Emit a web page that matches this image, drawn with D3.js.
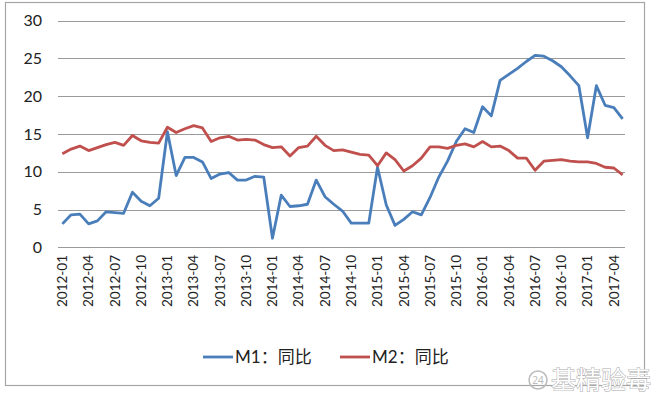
<!DOCTYPE html>
<html><head><meta charset="utf-8">
<script src="https://cdn.jsdelivr.net/npm/d3@7/dist/d3.min.js"></script>
<style>body{margin:0;background:#fff;}svg{display:block;}</style>
</head><body>
<svg id="c" width="660" height="397"></svg>
<script>
const months = [];
for (let y = 2012; y <= 2017; y++) for (let m = 1; m <= 12; m++) {
  if (y === 2017 && m > 5) break;
  months.push(y + "-" + String(m).padStart(2, "0"));
}
const m1 = [3.1,4.3,4.4,3.1,3.5,4.7,4.6,4.5,7.3,6.1,5.5,6.5,
            15.3,9.5,11.9,11.9,11.3,9.1,9.7,9.9,8.9,8.9,9.4,9.3,
            1.2,6.9,5.4,5.5,5.7,8.9,6.7,5.7,4.8,3.2,3.2,3.2,
            10.6,5.6,2.9,3.7,4.7,4.3,6.6,9.3,11.4,14.0,15.7,15.2,
            18.6,17.4,22.1,22.9,23.7,24.6,25.4,25.3,24.7,23.9,22.7,21.4,
            14.5,21.4,18.8,18.5,17.0];
const m2 = [12.4,13.0,13.4,12.8,13.2,13.6,13.9,13.5,14.8,14.1,13.9,13.8,
            15.9,15.2,15.7,16.1,15.8,14.0,14.5,14.7,14.2,14.3,14.2,13.6,
            13.2,13.3,12.1,13.2,13.4,14.7,13.5,12.8,12.9,12.6,12.3,12.2,
            10.8,12.5,11.6,10.1,10.8,11.8,13.3,13.3,13.1,13.5,13.7,13.3,
            14.0,13.3,13.4,12.8,11.8,11.8,10.2,11.4,11.5,11.6,11.4,11.3,
            11.3,11.1,10.6,10.5,9.6];
const yTicks = [0,5,10,15,20,25,30];
const seriesNames = ["M1：同比","M2：同比"];
const colors = ["#4a7ebb","#c0504d"];

const svg = d3.select("#c");
svg.append("rect").attr("x",5.5).attr("y",2.5).attr("width",639).attr("height",383)
  .attr("fill","none").attr("stroke","#a6a6a6").attr("stroke-width",1.2);

const x = d3.scalePoint().domain(months).range([58,627]).padding(0.5);
const y = d3.scaleLinear().domain([0,30]).range([247.3,20.7]);

svg.append("g").selectAll("line").data(yTicks).join("line")
  .attr("x1",58).attr("x2",625).attr("y1",d=>Math.round(y(d))+0.5).attr("y2",d=>Math.round(y(d))+0.5)
  .attr("stroke","#9a9a9a").attr("stroke-width",1);

svg.append("g").selectAll("text").data(yTicks).join("text")
  .attr("x",42).attr("y",d=>y(d)).attr("dy","0.35em").attr("text-anchor","end")
  .attr("font-family","Lato, 'Noto Sans', sans-serif").attr("font-size",16).attr("fill","#222")
  .text(d=>d);

const xl = months.filter((d,i)=>i%3===0);
svg.append("g").selectAll("text").data(xl).join("text")
  .attr("transform",d=>`translate(${x(d)},255) rotate(-90)`)
  .attr("text-anchor","end").attr("dy","0.35em")
  .attr("font-family","Lato, 'Noto Sans', sans-serif").attr("font-size",13.5).attr("fill","#222")
  .text(d=>d);

const line = d3.line().x((d,i)=>x(months[i])).y(d=>y(d));
[m1,m2].forEach((s,k)=>{
  svg.append("path").datum(s).attr("d",line).attr("fill","none")
    .attr("stroke",colors[k]).attr("stroke-width",2.8).attr("stroke-linejoin","round");
});

const lg = svg.append("g");
const lx = [203, 340];
seriesNames.forEach((n,k)=>{
  lg.append("line").attr("x1",lx[k]).attr("x2",lx[k]+30).attr("y1",357).attr("y2",357)
    .attr("stroke",colors[k]).attr("stroke-width",2.8);
  lg.append("text").attr("x",lx[k]+32).attr("y",357).attr("dy","0.35em")
    .attr("font-family","Lato, 'Noto Sans CJK SC', sans-serif").attr("font-size",17).attr("fill","#222")
    .text(n);
});

const wm = svg.append("g");
wm.append("circle").attr("cx",538).attr("cy",380).attr("r",9).attr("fill","none")
  .attr("stroke","#bbb").attr("stroke-width",1.5);
wm.append("text").attr("x",538).attr("y",380).attr("dy","0.35em").attr("text-anchor","middle")
  .attr("font-family","'Noto Sans'").attr("font-size",10).attr("fill","#bbb").text("24");
wm.append("text").attr("x",551).attr("y",380).attr("dy","0.35em")
  .attr("font-family","'Noto Sans CJK SC'").attr("font-size",25).attr("fill","#fff")
  .attr("stroke","#aaa").attr("stroke-width",1).attr("paint-order","stroke").text("基精验毒");
</script>
</body></html>
